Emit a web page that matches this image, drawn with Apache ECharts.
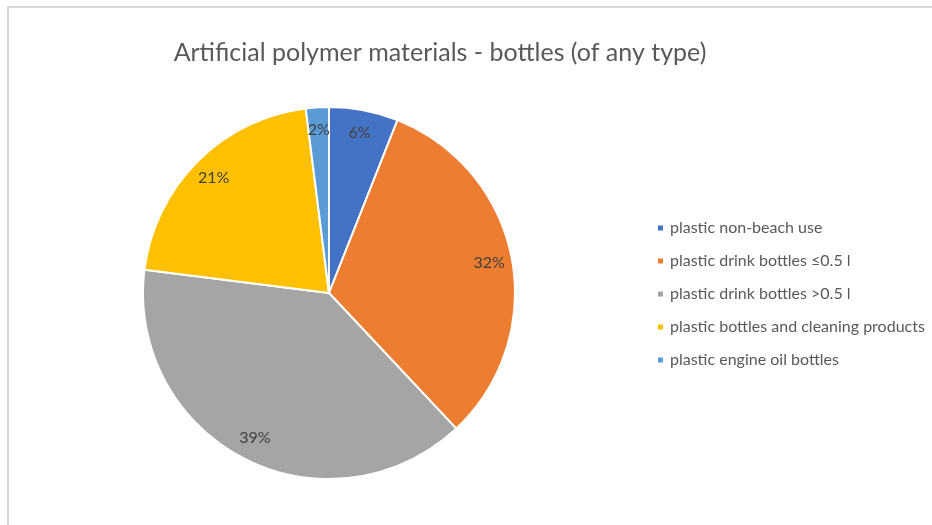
<!DOCTYPE html>
<html>
<head>
<meta charset="utf-8">
<script src="https://cdn.jsdelivr.net/npm/echarts@6/dist/echarts.min.js"></script>
<style>
  html, body { margin: 0; padding: 0; background: #fff; }
  #chart { width: 932px; height: 525px; }
</style>
</head>
<body>
<div id="chart"></div>
<script>
// Share of bottle types among artificial polymer litter (%)
const categories = [
  'plastic non-beach use',
  'plastic drink bottles \u22640.5 l',
  'plastic drink bottles >0.5 l',
  'plastic bottles and cleaning products',
  'plastic engine oil bottles'
];
const shares = [6, 32, 39, 21, 2];
const colors = ['#4472C4', '#ED7D31', '#A5A5A5', '#FFC000', '#5B9BD5'];

const FONT = 'Lato, "Open Sans", sans-serif';
const pieData = categories.map((name, i) => ({ name, value: shares[i] }));

const chart = echarts.init(document.getElementById('chart'), null, { renderer: 'canvas' });
chart.setOption({
  animation: false,
  color: colors,
  title: {
    text: 'Artificial polymer materials - bottles (of any type)',
    left: 435,
    textAlign: 'center',
    top: 35,
    textStyle: { fontFamily: FONT, fontSize: 25, fontWeight: 'normal', color: '#595959' }
  },
  legend: {
    orient: 'vertical',
    left: 651,
    top: 215,
    itemGap: 17,
    itemWidth: 7,
    itemHeight: 7,
    icon: 'rect',
    data: categories,
    textStyle: { fontFamily: FONT, fontSize: 16, color: '#595959', padding: [0, 0, 0, 1] }
  },
  graphic: [{
    type: 'rect',
    shape: { x: 8, y: 7, width: 1000, height: 1000 },
    style: { fill: 'none', stroke: '#d9d9d9', lineWidth: 2 },
    silent: true
  }],
  series: [
    {
      name: 'bottles',
      type: 'pie',
      center: [329, 293],
      radius: [0, 186],
      startAngle: 90,
      clockwise: true,
      data: pieData,
      itemStyle: { borderColor: '#ffffff', borderWidth: 2 },
      label: { show: false },
      labelLine: { show: false },
      emphasis: { disabled: true }
    },
    {
      // transparent ring that only carries the percentage labels near the rim
      name: 'labels',
      type: 'pie',
      center: [329, 293],
      radius: [134, 186],
      startAngle: 90,
      clockwise: true,
      silent: true,
      data: pieData,
      itemStyle: { color: 'rgba(0,0,0,0)', borderWidth: 0 },
      label: {
        show: true,
        position: 'inside',
        formatter: '{c}%',
        fontFamily: FONT,
        fontSize: 16,
        color: '#404040'
      },
      labelLine: { show: false },
      emphasis: { disabled: true }
    }
  ]
});
</script>
</body>
</html>
